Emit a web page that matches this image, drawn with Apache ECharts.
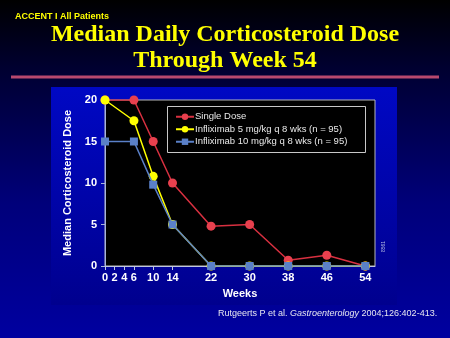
<!DOCTYPE html>
<html>
<head>
<meta charset="utf-8">
<script src="https://cdn.jsdelivr.net/npm/echarts@6/dist/echarts.min.js"></script>
<style>
html,body{margin:0;padding:0;}
#chart{width:450px;height:338px;background:linear-gradient(to bottom,#000000 0%,#000030 20%,#00007a 60%,#0000a0 100%);}
</style>
</head>
<body>
<div id="chart"></div>
<script>
var weekTicks = [0, 2, 4, 6, 10, 14, 22, 30, 38, 46, 54];
var weeks = [0, 6, 10, 14, 22, 30, 38, 46, 54];
var singleDose = [20, 20, 15, 10, 4.8, 5, 0.7, 1.3, 0];
var inflix5 = [20, 17.5, 10.8, 5, 0, 0, 0, 0, 0];
var inflix10 = [15, 15, 9.8, 5, 0, 0, 0, 0, 0];
var seriesNames = ['Single Dose', 'Infliximab 5 mg/kg q 8 wks (n = 95)', 'Infliximab 10 mg/kg q 8 wks (n = 95)'];
var yTicks = [0, 5, 10, 15, 20];

function pairs(vals){ return weeks.map(function(w,i){ return [w, vals[i]]; }); }

var chart = echarts.init(document.getElementById('chart'));
var font = 'Liberation Sans, Arial, sans-serif';
chart.setOption({
  backgroundColor: 'transparent',
  animation: false,
  graphic: [
    {type:'rect', z:-10, shape:{x:51,y:87,width:346,height:218},
     style:{fill:new echarts.graphic.LinearGradient(0,0,0,1,[{offset:0,color:'#0008c4'},{offset:1,color:'#00008e'}])}},
    {type:'rect', z:-5, shape:{x:11,y:75.5,width:428,height:3}, style:{fill:'#b8486e'}},
    {type:'text', x:15, y:12, style:{text:'ACCENT I All Patients', fill:'#ffff00', font:'bold 9px ' + font}},
    {type:'text', x:225, y:23, style:{text:'Median Daily Corticosteroid Dose', fill:'#ffff00', font:'bold 24px "Liberation Serif", "Times New Roman", serif', align:'center', verticalAlign:'top'}},
    {type:'text', x:225, y:49, style:{text:'Through Week 54', fill:'#ffff00', font:'bold 24px "Liberation Serif", "Times New Roman", serif', align:'center', verticalAlign:'top'}},
    {type:'rect', z:50, shape:{x:167.5,y:106.5,width:198,height:46}, style:{fill:'#000', stroke:'#c8c8c8', lineWidth:1}},
    {type:'text', z:60, x:381, y:252, rotation:Math.PI/2, style:{text:'8561', fill:'#b0b8e0', font:'5px ' + font}},
    {type:'text', x:218, y:309, style:{
      rich:{n:{fill:'#e6e6f0', font:'9px ' + font}, i:{fill:'#e6e6f0', font:'italic 9px ' + font}},
      text:'{n|Rutgeerts P et al. }{i|Gastroenterology}{n| 2004;126:402-413.}'}}
  ],
  legend: {
    z: 60,
    left: 175, top: 111,
    orient: 'vertical',
    itemWidth: 18, itemHeight: 8, itemGap: 1,
    padding: 0,
    data: seriesNames,
    textStyle: {color:'#e8e8e8', fontSize:9.5, fontFamily:font, lineHeight:11.5, padding:[0,0,0,-4]}
  },
  grid: {left:105, top:100, right:75, bottom:72, show:true, backgroundColor:'#000', borderColor:'#b8b8b8', borderWidth:1, containLabel:false},
  xAxis: {
    type:'value', min:0, max:56,
    name:'Weeks', nameLocation:'middle', nameGap:22,
    nameTextStyle:{color:'#fff', fontWeight:'bold', fontSize:11, fontFamily:font},
    axisLine:{lineStyle:{color:'#c0c8e0', width:1}},
    axisTick:{show:true, length:4, lineStyle:{color:'#c0c8e0'}, customValues: weekTicks},
    axisLabel:{color:'#fff', fontWeight:'bold', fontSize:11, fontFamily:font, margin:6, customValues: weekTicks},
    splitLine:{show:false}
  },
  yAxis: {
    type:'value', min:0, max:20, interval:5,
    name:'Median Corticosteroid Dose', nameLocation:'middle', nameGap:24, nameRotate:90,
    nameTextStyle:{color:'#fff', fontWeight:'bold', fontSize:11, fontFamily:font},
    axisLine:{show:true, lineStyle:{color:'#a8b4d8', width:1}},
    axisTick:{show:true, length:4, lineStyle:{color:'#a8b4d8'}},
    axisLabel:{color:'#fff', fontWeight:'bold', fontSize:11, fontFamily:font, margin:8},
    splitLine:{show:false}
  },
  series: [
    {name:seriesNames[0], type:'line', data:pairs(singleDose), symbol:'circle', symbolSize:9, z:3,
     itemStyle:{color:'#e8404e'}, lineStyle:{color:'#d83040', width:1.5}},
    {name:seriesNames[1], type:'line', data:pairs(inflix5), symbol:'circle', symbolSize:9, z:4,
     itemStyle:{color:'#ffff00'}, lineStyle:{color:'#ffff00', width:1.5}},
    {name:seriesNames[2], type:'line', data:pairs(inflix10), symbol:'rect', symbolSize:8, z:5,
     itemStyle:{color:'#5a80c8'}, lineStyle:{color:'#5a80c8', width:1.5}}
  ]
});
</script>
</body>
</html>
